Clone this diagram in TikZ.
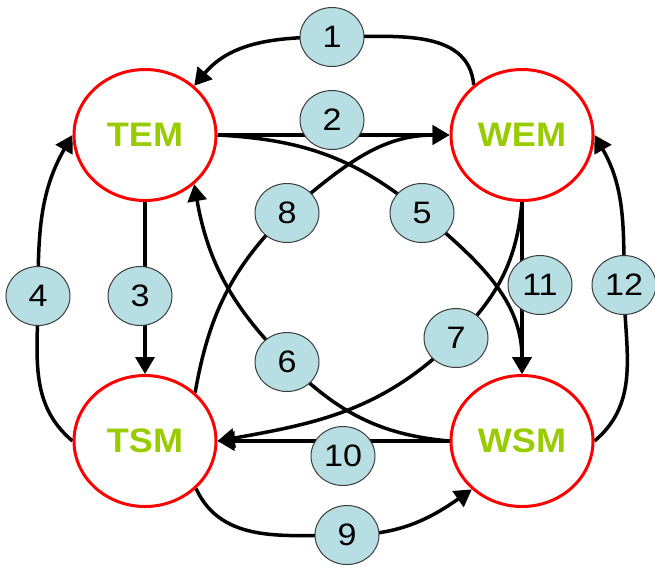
\documentclass[tikz,border=0pt]{standalone}
\usepackage{fontspec}
\setmainfont{Liberation Sans}
\usepackage{graphicx}
\usetikzlibrary{shapes.geometric,arrows.meta,backgrounds}
\definecolor{redc}{RGB}{255,0,0}
\definecolor{greenc}{RGB}{153,204,0}
\definecolor{bluec}{RGB}{183,222,226}
\definecolor{grayc}{RGB}{60,60,60}
\newcommand{\bigtxt}[1]{\scalebox{1.06}[1]{\fontsize{34}{40}\selectfont\bfseries #1}}
\newcommand{\numtxt}[1]{\scalebox{1.1}[1]{\fontsize{31}{36}\selectfont #1}}
\begin{document}
\begin{tikzpicture}[x=1pt,y=1pt,
  state/.style={ellipse, draw=redc, line width=3pt, fill=white, minimum width=142pt, minimum height=131pt, inner sep=0pt, text=greenc},
  numc/.style={ellipse, draw=grayc, line width=1pt, fill=bluec, minimum width=64pt, minimum height=59pt, inner sep=0pt, text=black},
  conn/.style={line width=3.5pt, draw=black},
  arr/.style={conn, -{Triangle[length=17pt,width=19pt]}}
]
\useasboundingbox (0,0) rectangle (655,-566);
% main states
\node[state] (tem) at (145,-135) {\bigtxt{TEM}};
\node[state] (wem) at (522,-135) {\bigtxt{WEM}};
\node[state] (tsm) at (145,-441) {\bigtxt{TSM}};
\node[state] (wsm) at (522,-441) {\bigtxt{WSM}};
% numbered labels
\node[numc] (n1) at (332,-37) {\numtxt{1}};
\node[numc] (n2) at (332,-120) {\numtxt{2}};
\node[numc] (n3) at (140,-296) {\numtxt{3}};
\node[numc] (n4) at (38,-296) {\numtxt{4}};
\node[numc] (n5) at (422,-213) {\numtxt{5}};
\node[numc] (n6) at (287,-362) {\numtxt{6}};
\node[numc] (n7) at (456,-338) {\numtxt{7}};
\node[numc] (n8) at (287,-213) {\numtxt{8}};
\node[numc] (n9) at (347,-535) {\numtxt{9}};
\node[numc] (n10) at (343,-456) {\numtxt{10}};
\node[numc] (n11) at (540,-285) {\numtxt{11}};
\node[numc] (n12) at (624,-285) {\numtxt{12}};
\begin{pgfonlayer}{background}
\draw[arr] (wem.134) to[out=95,in=0] (n1.center) to[out=180,in=50] (tem.45);
\draw[arr] (tem.east) -- (wem.west);
\draw[arr] (tem.south) -- (tsm.north);
\draw[arr] (wem.south) -- (wsm.north);
\draw[arr] (wsm.west) -- (tsm.east);
\draw[arr] (tsm.west) to[out=140,in=-90] (n4.center) to[out=90,in=-120] (tem.west);
\draw[arr] (wsm.east) to[out=40,in=-90] (n12.center) to[out=90,in=-60] (wem.east);
\draw[arr] (tem.east) to[out=-3,in=140] (n5.center) to[out=-40,in=90] (wsm.north);
\draw[arr] (tsm.44) to[out=80,in=-135] (n8.center) to[out=40,in=180] (wem.west);
\draw[arr] (wsm.west) to[out=175,in=-45] (n6.center) to[out=135,in=-80] (tem.-45);
\draw[arr] (wem.south) to[out=-95,in=45] (n7.center) to[out=-135,in=10] (tsm.east);
\draw[arr] (tsm.-43) to[out=-65,in=180] (n9.center) to[out=0,in=-145] (wsm.-136);
\end{pgfonlayer}
\end{tikzpicture}
\end{document}
